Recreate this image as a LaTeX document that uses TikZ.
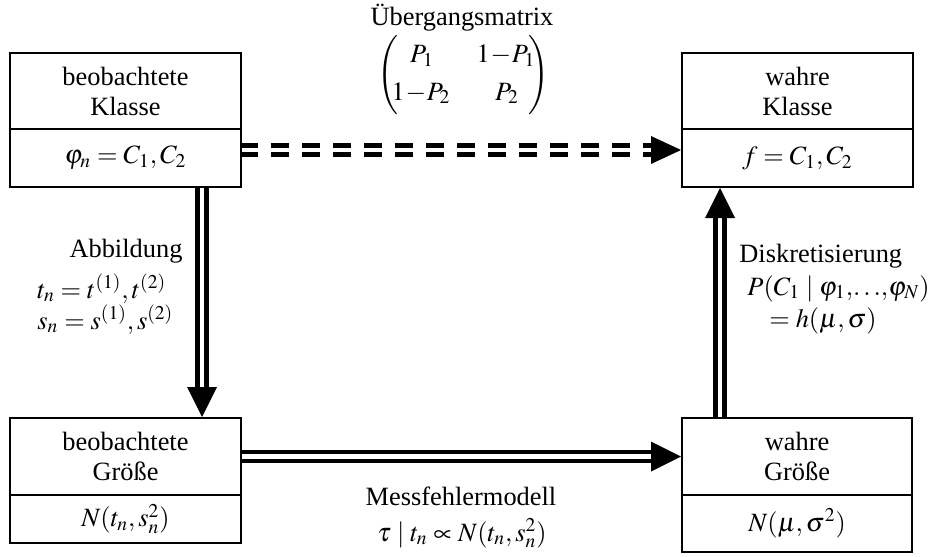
\documentclass[tikz,border=0pt]{standalone}
\usepackage{mathptmx}
\usepackage{fontspec}
\setmainfont{Liberation Serif}
\usetikzlibrary{calc}
\newcommand\figfont{\fontsize{13.2}{15}\selectfont}
\newcommand\tminus{\mkern-2mu-\mkern-2mu}
\begin{document}
\begin{tikzpicture}[x=0.5pt,y=-0.5pt,
  box/.style={draw, line width=1pt, inner sep=0pt, align=center, font=\figfont},
  lbl/.style={inner sep=0pt, font=\figfont},
  dbl/.style={line width=2.3pt, double, double distance=2.3pt},
  head/.style={fill=black}]
\useasboundingbox (0,0) rectangle (935,556);
% boxes
\node[box, minimum width=115.5pt, minimum height=38pt] (tl) at (125.5,91) {beobachtete\\Klasse};
\node[box, minimum width=115.5pt, minimum height=29pt] (tlv) at (125.5,158) {$\varphi_n = C_1, C_2$};
\node[box, minimum width=115.5pt, minimum height=38pt] (tr) at (797.5,91) {wahre\\Klasse};
\node[box, minimum width=115.5pt, minimum height=29pt] (trv) at (797.5,158) {$f = C_1, C_2$};
\node[box, minimum width=115.5pt, minimum height=38.5pt] (bl) at (125.5,456.5) {beobachtete\\Größe};
\node[box, minimum width=115.5pt, minimum height=24pt] (blv) at (125.5,519) {$N(t_n, s_n^2)$};
\node[box, minimum width=115pt, minimum height=38.5pt] (br) at (797,456.5) {wahre\\Größe};
\node[box, minimum width=115pt, minimum height=28.5pt] (brv) at (797,523.5) {$N(\mu,\sigma^2)$};
% dashed double arrow
\coordinate (d1) at ([yshift=4pt]tlv.east);
\coordinate (d2) at (trv.west |- d1);
\draw[dbl, dash pattern=on 9pt off 6.5pt, dash phase=1pt] (d1) -- ([xshift=-14pt]d2);
\fill[head] (d2) -- ++(-15pt,7pt) -- ++(0pt,-14pt) -- cycle;
% left vertical
\coordinate (a1s) at ([xshift=38.25pt]tlv.south);
\coordinate (a1e) at (a1s |- bl.north);
\draw[dbl] (a1s) -- ([yshift=14pt]a1e);
\fill[head] (a1e) -- ++(-7.5pt,15pt) -- ++(15pt,0pt) -- cycle;
% bottom horizontal
\draw[dbl] (bl.east) -- ([xshift=-14pt]br.west);
\fill[head] (br.west) -- ++(-15pt,7.5pt) -- ++(0pt,-15pt) -- cycle;
% right vertical
\coordinate (a2e) at ([xshift=-38.75pt]trv.south);
\coordinate (a2s) at (a2e |- br.north);
\draw[dbl] (a2s) -- ([yshift=-14pt]a2e);
\fill[head] (a2e) -- ++(-7.5pt,-15pt) -- ++(15pt,0pt) -- cycle;
% transition matrix
\node[lbl, anchor=base] (lu) at (462,26) {Übergangsmatrix};
\node[lbl, anchor=base west] (lpar) at (377,82) {$\left(\vrule height 17pt depth 17pt width 0pt\right.$};
\node[lbl, anchor=base east] (rpar) at (550,82) {$\left.\vrule height 17pt depth 17pt width 0pt\right)$};
\node[lbl, anchor=base] (m11) at (422,63) {$P_1$};
\node[lbl, anchor=base] (m12) at (506,63) {$1\tminus P_1$};
\node[lbl, anchor=base] (m21) at (421,100) {$1\tminus P_2$};
\node[lbl, anchor=base] (m22) at (507,100) {$P_2$};
% other labels
\node[lbl, anchor=base] (la) at (126,257) {Abbildung};
\node[lbl, anchor=base west] (lt) at (37,298) {$t_n = t^{(1)}, t^{(2)}$};
\node[lbl, anchor=base west] (ls) at (37,329) {$s_n = s^{(1)}, s^{(2)}$};
\node[lbl, anchor=base west] (ld) at (739,262) {Diskretisierung};
\node[lbl, anchor=base west] (lp) at (747,295) {$P(C_1 \mid \varphi_1{,}{\ldots}{,}\varphi_N)$};
\node[lbl, anchor=base west] (lh) at (769,327) {$= h(\mu,\sigma)$};
\node[lbl, anchor=base] (lm) at (461,505) {Messfehlermodell};
\node[lbl, anchor=base] (lt2) at (462,541) {$\tau \mid t_n \propto N(t_n, s_n^2)$};
\end{tikzpicture}
\end{document}
